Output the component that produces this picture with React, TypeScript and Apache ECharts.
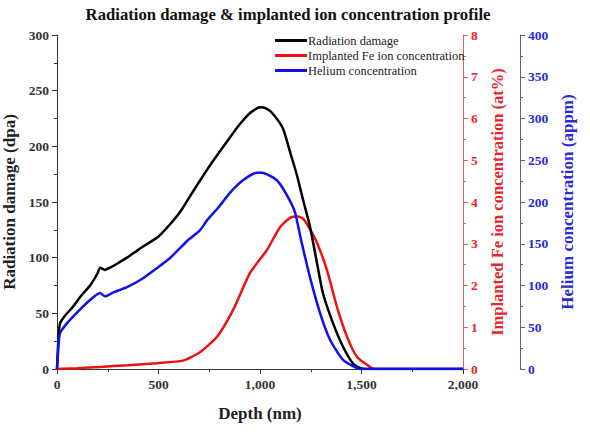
import React, { useEffect, useRef } from "react";
import * as echarts from "echarts";

const TITLE = "Radiation damage & implanted ion concentration profile";
const SERIES_NAMES = ["Radiation damage", "Implanted Fe ion concentration", "Helium concentration"];

const damageDepth = [0, 8, 15, 40, 79, 120, 163, 200, 212, 236, 261, 300, 345, 400, 450, 500, 557, 606, 655, 700, 754, 800, 852, 901, 951, 1000, 1030, 1064, 1113, 1148, 1182, 1212, 1246, 1281, 1310, 1360, 1409, 1458, 1493, 1520, 2000];
const damageValues = [0, 30, 41, 48, 56, 66, 75, 86, 91, 89, 91, 95, 100, 107, 113, 119, 130, 141, 155, 168, 183, 195, 208, 220, 230, 235, 234, 229, 216, 195, 174, 152, 128, 95, 68, 41, 20, 5, 1, 0, 0];

const feDepth = [0, 100, 212, 350, 493, 621, 704, 788, 867, 951, 1034, 1099, 1148, 1187, 1212, 1246, 1281, 1330, 1379, 1429, 1478, 1542, 1560, 2000];
const feValues = [0, 0.02, 0.05, 0.09, 0.14, 0.2, 0.4, 0.77, 1.41, 2.3, 2.85, 3.4, 3.62, 3.65, 3.6, 3.35, 3.02, 2.37, 1.49, 0.77, 0.29, 0.05, 0, 0];

const heDepth = [0, 8, 15, 50, 113, 160, 212, 236, 280, 345, 420, 493, 557, 640, 704, 739, 800, 852, 916, 985, 1010, 1083, 1133, 1172, 1200, 1246, 1296, 1345, 1409, 1478, 1500, 2000];
const heValues = [0, 30, 43, 55, 71, 82, 91, 87, 92, 98, 108, 121, 133, 153, 166, 178, 195, 211, 226, 235, 235, 226, 208, 188, 157, 110, 67, 35, 11, 1, 0, 0];

const xTicks = [0, 500, 1000, 1500, 2000];

const FONT = "'Liberation Serif', 'Times New Roman', serif";
const RED = "#e8262a";
const BLUE = "#2a2ad6";

function pairs(xs: number[], ys: number[]) {
  return xs.map((x, i) => [x, ys[i]]);
}

export default function App() {
  const ref = useRef<HTMLDivElement>(null);
  useEffect(() => {
    if (!ref.current) return;
    const chart = echarts.init(ref.current, undefined, { renderer: "svg" });
    const axisName = { fontFamily: FONT, fontWeight: "bold" as const, fontSize: 17 };
    const tickLabel = { fontFamily: FONT, fontWeight: "bold" as const, fontSize: 13.5 };
    const lineSeries = { type: "line", showSymbol: false, symbol: "none", smooth: 0.2 };
    chart.setOption({
      animation: false,
      backgroundColor: "#ffffff",
      title: {
        text: TITLE,
        left: 283,
        textAlign: "center",
        top: 1,
        textStyle: { fontFamily: FONT, fontWeight: "bold", fontSize: 16.7, color: "#111" },
      },
      legend: {
        orient: "vertical",
        left: 270,
        top: 29,
        itemWidth: 32,
        itemHeight: 3,
        itemGap: 2,
        icon: "rect",
        data: SERIES_NAMES,
        textStyle: { fontFamily: FONT, fontSize: 12.5, color: "#222", padding: [0, 0, 0, -4] },
      },
      grid: {
        left: 57,
        right: 127,
        top: 35,
        bottom: 66,
        containLabel: false,
        outerBoundsMode: "none",
      },
      xAxis: {
        type: "value",
        min: 0,
        max: 2000,
        interval: 500,
        name: "Depth (nm)",
        nameLocation: "middle",
        nameGap: 36,
        nameTextStyle: { ...axisName, color: "#222" },
        axisLine: { show: true, lineStyle: { color: "#333", width: 1 } },
        axisTick: { show: true, length: 5, lineStyle: { color: "#333" } },
        minorTick: { show: true, splitNumber: 2, length: 3, lineStyle: { color: "#333" } },
        splitLine: { show: false },
        axisLabel: {
          ...tickLabel,
          color: "#333",
          margin: 8,
          formatter: (v: number) => (xTicks.includes(v) ? v.toLocaleString("en-US") : ""),
        },
      },
      yAxis: [
        {
          type: "value",
          min: 0,
          max: 300,
          interval: 50,
          position: "left",
          name: "Radiation damage (dpa)",
          nameLocation: "middle",
          nameGap: 36,
          nameTextStyle: { ...axisName, color: "#222" },
          axisLine: { show: true, lineStyle: { color: "#333", width: 1 } },
          axisTick: { show: true, length: 5, lineStyle: { color: "#333" } },
          minorTick: { show: true, splitNumber: 2, length: 3, lineStyle: { color: "#333" } },
          splitLine: { show: false },
          axisLabel: { ...tickLabel, color: "#333", margin: 8 },
        },
        {
          type: "value",
          min: 0,
          max: 8,
          interval: 1,
          position: "right",
          offset: 0,
          name: "Implanted Fe ion concentration (at%)",
          nameLocation: "middle",
          nameGap: 20,
          nameRotate: 90,
          nameTextStyle: { ...axisName, fontSize: 16.5, color: RED },
          axisLine: { show: true, lineStyle: { color: "#e06060", width: 1 } },
          axisTick: { show: true, length: 5, lineStyle: { color: "#e06060" } },
          minorTick: { show: true, splitNumber: 2, length: 3, lineStyle: { color: "#e06060" } },
          splitLine: { show: false },
          axisLabel: { ...tickLabel, color: RED, margin: 8 },
        },
        {
          type: "value",
          min: 0,
          max: 400,
          interval: 50,
          position: "right",
          offset: 57,
          name: "Helium concentration (appm)",
          nameLocation: "middle",
          nameGap: 37,
          nameRotate: 90,
          nameTextStyle: { ...axisName, color: BLUE },
          axisLine: { show: true, lineStyle: { color: "#5a5aaa", width: 1 } },
          axisTick: { show: true, length: 5, lineStyle: { color: "#5a5aaa" } },
          minorTick: { show: true, splitNumber: 2, length: 3, lineStyle: { color: "#5a5aaa" } },
          splitLine: { show: false },
          axisLabel: { ...tickLabel, color: BLUE, margin: 8 },
        },
      ],
      series: [
        {
          ...lineSeries,
          name: SERIES_NAMES[0],
          yAxisIndex: 0,
          data: pairs(damageDepth, damageValues),
          lineStyle: { color: "#000", width: 2.5 },
          itemStyle: { color: "#000" },
          z: 3,
        },
        {
          ...lineSeries,
          name: SERIES_NAMES[1],
          yAxisIndex: 1,
          data: pairs(feDepth, feValues),
          lineStyle: { color: "#ee1111", width: 2.5 },
          itemStyle: { color: "#ee1111" },
          z: 2,
        },
        {
          ...lineSeries,
          name: SERIES_NAMES[2],
          yAxisIndex: 2,
          data: pairs(heDepth, heValues),
          lineStyle: { color: "#1010ee", width: 2.5 },
          itemStyle: { color: "#1010ee" },
          z: 4,
        },
      ],
    });
    return () => chart.dispose();
  }, []);
  return (
    <div
      ref={ref}
      style={{ position: "absolute", left: 0, top: 0, width: 590, height: 435 }}
    />
  );
}
